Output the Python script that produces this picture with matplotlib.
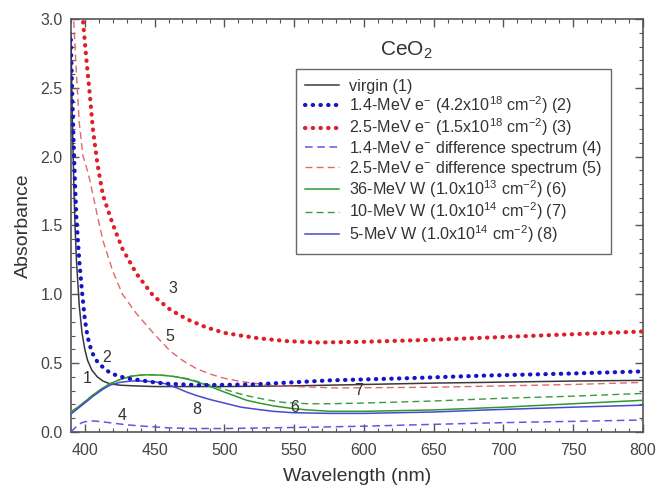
import matplotlib
matplotlib.use("Agg")
import matplotlib.pyplot as plt
from matplotlib.ticker import MultipleLocator

plt.rcParams['font.family'] = ['Liberation Sans', 'DejaVu Sans']
plt.rcParams['mathtext.fontset'] = 'custom'
plt.rcParams['mathtext.rm'] = 'Liberation Sans'
plt.rcParams['mathtext.it'] = 'Liberation Sans:italic'
plt.rcParams['mathtext.bf'] = 'Liberation Sans:bold'

# ---- data ----
wl_virgin = [390, 391, 392, 393, 394, 396, 398, 400, 402, 405, 409, 413, 418, 425, 435, 450, 475, 500, 550, 600, 650, 700, 750, 800]
abs_virgin = [2.9, 2.3, 1.85, 1.5, 1.25, 0.92, 0.72, 0.6, 0.52, 0.45, 0.40, 0.37, 0.35, 0.34, 0.335, 0.33, 0.33, 0.33, 0.335, 0.345, 0.355, 0.362, 0.37, 0.375]

wl_e14 = [390, 391, 392, 393, 394, 396, 398, 400, 402, 405, 409, 413, 418, 423, 430, 437, 450, 460, 482, 520, 576, 630, 688, 750, 800]
abs_e14 = [2.85, 2.45, 2.1, 1.8, 1.55, 1.25, 1.02, 0.82, 0.69, 0.58, 0.51, 0.47, 0.43, 0.41, 0.39, 0.38, 0.36, 0.35, 0.34, 0.345, 0.375, 0.39, 0.41, 0.425, 0.44]

wl_e25 = [396, 398.6, 401, 403.6, 405.8, 409, 413, 420, 427, 437, 449, 461, 473, 487, 500, 512, 525, 545, 566, 600, 650, 700, 750, 800]
abs_e25 = [3.45, 3.0, 2.72, 2.45, 2.2, 1.95, 1.72, 1.51, 1.33, 1.15, 0.99, 0.89, 0.82, 0.76, 0.72, 0.7, 0.68, 0.66, 0.65, 0.655, 0.67, 0.69, 0.71, 0.73]

wl_d14 = [390, 392, 395, 398, 402, 406, 412, 418, 430, 442, 460, 477, 500, 520, 545, 570, 600, 630, 660, 688, 720, 750, 800]
abs_d14 = [0.0, 0.02, 0.05, 0.068, 0.078, 0.08, 0.075, 0.067, 0.052, 0.042, 0.03, 0.025, 0.025, 0.028, 0.032, 0.036, 0.042, 0.05, 0.058, 0.065, 0.072, 0.077, 0.087]

wl_d25 = [390, 392, 394, 396, 398.6, 401, 403.6, 408.6, 413, 420, 427, 437, 449, 461, 470, 480, 490, 500, 510, 520, 535, 550, 580, 650, 700, 750, 800]
abs_d25 = [3.4, 3.0, 2.6, 2.25, 2.01, 1.93, 1.83, 1.59, 1.39, 1.17, 1.0, 0.86, 0.72, 0.59, 0.52, 0.46, 0.42, 0.39, 0.37, 0.355, 0.34, 0.33, 0.32, 0.325, 0.335, 0.345, 0.36]

wl_w36 = [390, 395, 400, 406, 413, 418, 425, 433, 442, 450, 458, 466, 475, 483, 490, 500, 508, 516, 525, 535, 549, 560, 576, 600, 650, 700, 750, 800]
abs_w36 = [0.145, 0.18, 0.22, 0.27, 0.32, 0.35, 0.38, 0.405, 0.415, 0.415, 0.41, 0.40, 0.38, 0.355, 0.33, 0.29, 0.26, 0.23, 0.21, 0.19, 0.17, 0.16, 0.15, 0.15, 0.16, 0.18, 0.205, 0.23]

wl_w10 = [390, 395, 400, 406, 413, 418, 425, 433, 442, 450, 458, 466, 475, 483, 490, 500, 510, 520, 530, 542, 560, 576, 600, 650, 700, 750, 800]
abs_w10 = [0.145, 0.18, 0.22, 0.27, 0.32, 0.35, 0.38, 0.405, 0.415, 0.415, 0.41, 0.40, 0.385, 0.36, 0.34, 0.31, 0.28, 0.255, 0.235, 0.215, 0.205, 0.205, 0.21, 0.225, 0.245, 0.26, 0.28]

wl_w5 = [390, 395, 400, 406, 413, 418, 425, 433, 440, 450, 458, 466, 473, 480, 490, 502, 512, 523, 535, 549, 576, 600, 650, 688, 750, 800]
abs_w5 = [0.13, 0.17, 0.21, 0.26, 0.31, 0.34, 0.36, 0.37, 0.37, 0.365, 0.35, 0.32, 0.29, 0.265, 0.235, 0.205, 0.18, 0.165, 0.15, 0.14, 0.135, 0.135, 0.145, 0.16, 0.18, 0.195]

labels = [
    "virgin (1)",
    r"1.4-MeV e$^{-}$ (4.2x10$^{18}$ cm$^{-2}$) (2)",
    r"2.5-MeV e$^{-}$ (1.5x10$^{18}$ cm$^{-2}$) (3)",
    r"1.4-MeV e$^{-}$ difference spectrum (4)",
    r"2.5-MeV e$^{-}$ difference spectrum (5)",
    r"36-MeV W (1.0x10$^{13}$ cm$^{-2}$) (6)",
    r"10-MeV W (1.0x10$^{14}$ cm$^{-2}$) (7)",
    r"5-MeV W (1.0x10$^{14}$ cm$^{-2}$) (8)",
]

curve_tags = ["1", "2", "3", "4", "5", "6", "7", "8"]
tag_x = [402, 415.5, 463, 427, 461, 550.5, 596, 480]
tag_y = [0.39, 0.54, 1.04, 0.12, 0.69, 0.18, 0.30, 0.16]

fig = plt.figure(figsize=(6.56, 4.87), dpi=100)
ax = fig.add_axes([0.108, 0.113, 0.872, 0.848])

dot = (0, (0.1, 1.75))
c_black = '#3a3a3a'
c_blue = '#1414c8'
c_red = '#e01e2a'
ax.plot(wl_virgin, abs_virgin, color=c_black, lw=1.1, label=labels[0], zorder=3)
ax.plot(wl_e14, abs_e14, color=c_blue, lw=3.0, linestyle=dot, dash_capstyle='round', label=labels[1], zorder=5)
ax.plot(wl_e25, abs_e25, color=c_red, lw=3.0, linestyle=dot, dash_capstyle='round', label=labels[2], zorder=5)
ax.plot(wl_d14, abs_d14, color='#5a5ae0', lw=1.1, linestyle=(0, (5, 3)), label=labels[3], zorder=3)
ax.plot(wl_d25, abs_d25, color='#e06868', lw=1.0, linestyle=(0, (5, 3)), label=labels[4], zorder=3)
ax.plot(wl_w36, abs_w36, color='#2e9a2e', lw=1.1, label=labels[5], zorder=3)
ax.plot(wl_w10, abs_w10, color='#3a9a3a', lw=1.0, linestyle=(0, (5, 3)), label=labels[6], zorder=3)
ax.plot(wl_w5, abs_w5, color='#4848d0', lw=1.1, label=labels[7], zorder=3)

for t, x, y in zip(curve_tags, tag_x, tag_y):
    ax.text(x, y, t, fontsize=11.5, color='#333333', ha='center', va='center', zorder=6)

ax.set_xlim(390, 800)
ax.set_ylim(0, 3.0)
ax.xaxis.set_major_locator(MultipleLocator(50))
ax.xaxis.set_minor_locator(MultipleLocator(10))
ax.yaxis.set_major_locator(MultipleLocator(0.5))
ax.yaxis.set_minor_locator(MultipleLocator(0.1))
ax.yaxis.set_major_formatter(matplotlib.ticker.FormatStrFormatter('%.1f'))
ax.tick_params(which='both', direction='in', top=True, right=True, color='#555555')
ax.tick_params(which='major', length=6, width=1.0, labelsize=11.5, labelcolor='#444444')
ax.tick_params(axis='x', which='major', pad=8)
ax.tick_params(axis='y', which='major', pad=6)
ax.tick_params(which='minor', length=3, width=0.8)
for s in ax.spines.values():
    s.set_color('#555555')
    s.set_linewidth(1.2)

ax.set_xlabel("Wavelength (nm)", fontsize=14, color='#333333', labelpad=7)
ax.set_ylabel("Absorbance", fontsize=14, color='#333333', labelpad=6)

ax.text(0.587, 0.925, r"CeO$_2$", transform=ax.transAxes, fontsize=15, ha='center', va='center', color='#333333')

leg = ax.legend(loc='upper left', bbox_to_anchor=(0.393, 0.879), borderaxespad=0,
                fontsize=11.6, handlelength=2.1, handletextpad=0.6, labelspacing=0.04,
                frameon=True, fancybox=False, edgecolor='#444444', borderpad=0.6)
leg.get_frame().set_linewidth(1.0)
for txt in leg.get_texts():
    txt.set_color('#333333')

fig.savefig("out.png", dpi=100)
